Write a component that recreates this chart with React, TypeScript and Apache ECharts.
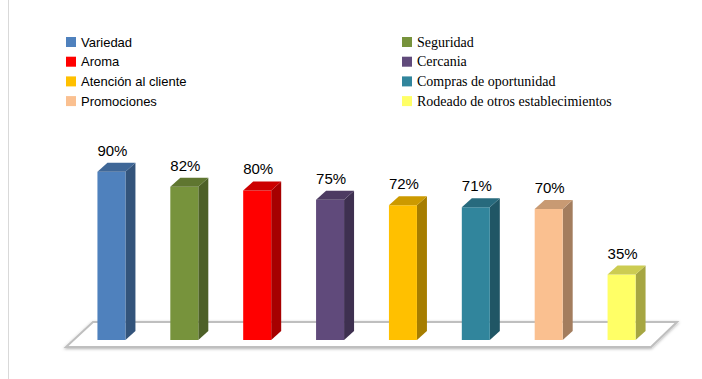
import React, { useEffect, useRef } from "react";
import * as echarts from "echarts";

const categories = [
  "Variedad",
  "Seguridad",
  "Aroma",
  "Cercania",
  "Atención al cliente",
  "Compras de oportunidad",
  "Promociones",
  "Rodeado de otros establecimientos",
];
const values = [90, 82, 80, 75, 72, 71, 70, 35];
const valueLabels = ["90%", "82%", "80%", "75%", "72%", "71%", "70%", "35%"];
const colors = ["#4F81BD", "#77933C", "#FF0000", "#604A7B", "#FFC000", "#31859C", "#FAC090", "#FFFF66"];
const leftLegend = ["Variedad", "Aroma", "Atención al cliente", "Promociones"];
const rightLegend = ["Seguridad", "Cercania", "Compras de oportunidad", "Rodeado de otros establecimientos"];

function shade(hex: string, f: number) {
  const n = parseInt(hex.slice(1), 16);
  const r = Math.round(((n >> 16) & 255) * f);
  const g = Math.round(((n >> 8) & 255) * f);
  const b = Math.round((n & 255) * f);
  return `rgb(${r},${g},${b})`;
}

export default function App() {
  const ref = useRef<HTMLDivElement>(null);
  useEffect(() => {
    const chart = echarts.init(ref.current!, null, { renderer: "svg" });
    const series = categories.map((name, i) => ({
      type: "custom",
      name,
      itemStyle: { color: colors[i] },
      data: [[i, values[i]]],
      encode: { x: 0, y: 1 },
      z: 3,
      renderItem: (params: any, api: any) => {
        const xi = api.value(0);
        const v = api.value(1);
        const top = api.coord([xi, v]);
        const bot = api.coord([xi, 0]);
        const hw = 14;
        const d = 10;
        const dy = 9;
        const l = top[0] - hw;
        const r = top[0] + hw;
        const c = colors[xi];
        return {
          type: "group",
          children: [
            {
              type: "polygon",
              shape: { points: [[r, top[1]], [r + d, top[1] - dy], [r + d, bot[1] - dy], [r, bot[1]]] },
              style: { fill: shade(c, 0.65) },
            },
            {
              type: "rect",
              shape: { x: l, y: top[1], width: hw * 2, height: bot[1] - top[1] },
              style: { fill: c },
            },
            {
              type: "polygon",
              shape: { points: [[l, top[1]], [l + d, top[1] - dy], [r + d, top[1] - dy], [r, top[1]]] },
              style: { fill: shade(c, 0.8) },
            },
            {
              type: "text",
              style: {
                text: valueLabels[xi],
                x: top[0] + 1,
                y: top[1] - dy - 5,
                textAlign: "center",
                textVerticalAlign: "bottom",
                fill: "#000",
                fontSize: 15,
                fontFamily: "Liberation Sans",
              },
            },
          ],
        };
      },
    }));
    chart.setOption({
      animation: false,
      backgroundColor: "#fff",
      grid: { left: 75, width: 583, top: 153, height: 187 },
      xAxis: { type: "category", data: categories, show: false },
      yAxis: { type: "value", min: 0, max: 100, show: false },
      legend: [
        {
          data: leftLegend,
          orient: "vertical",
          left: 61,
          top: 30,
          icon: "rect",
          itemWidth: 10,
          itemHeight: 10,
          itemGap: 5.7,
          textStyle: { fontSize: 13, fontFamily: "Liberation Sans", color: "#000", lineHeight: 14 },
        },
        {
          data: rightLegend,
          orient: "vertical",
          left: 397,
          top: 30,
          icon: "rect",
          itemWidth: 10,
          itemHeight: 10,
          itemGap: 5.7,
          textStyle: { fontSize: 14, fontFamily: "Liberation Serif", color: "#000", lineHeight: 14 },
        },
      ],
      graphic: [
        {
          type: "line",
          shape: { x1: 8.5, y1: 0, x2: 8.5, y2: 379 },
          style: { stroke: "#d9d9d9", lineWidth: 1 },
          z: 0,
        },
        {
          type: "polygon",
          shape: { points: [[66, 347], [651, 347], [677, 322], [93, 322]] },
          style: {
            fill: "#fff",
            stroke: "#bfbfbf",
            lineWidth: 2,
            shadowBlur: 3,
            shadowColor: "rgba(0,0,0,0.3)",
            shadowOffsetY: 1,
          },
          z: 1,
        },
      ],
      series,
    });
    return () => chart.dispose();
  }, []);
  return <div ref={ref} style={{ position: "absolute", left: 0, top: 0, width: 702, height: 379 }} />;
}
